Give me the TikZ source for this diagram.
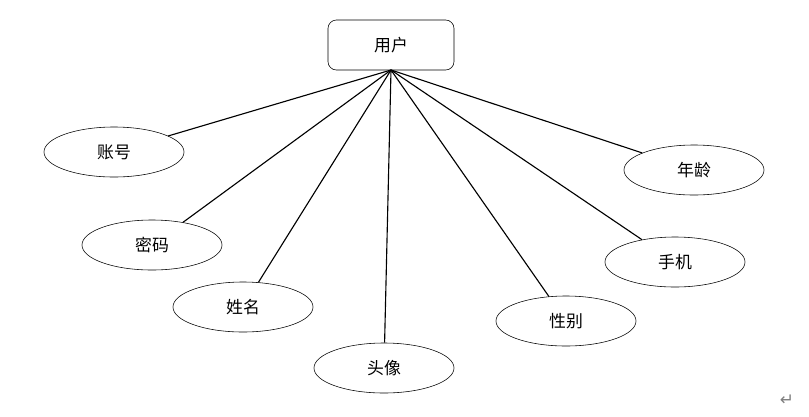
\documentclass[tikz,border=0pt]{standalone}
\usepackage{fontspec}
\newfontfamily\cjk{Noto Sans CJK SC}
\newfontfamily\dv{DejaVu Sans}
\usetikzlibrary{shapes.geometric}

\begin{document}
\begin{tikzpicture}[x=0.025cm,y=-0.025cm,
    attr/.style={draw,thin,ellipse,minimum width=3.5cm,minimum height=1.25cm,font=\cjk\large},
    ent/.style={draw,thin,rounded corners=6pt,minimum width=3.15cm,minimum height=1.25cm,font=\cjk\large}]
      \useasboundingbox (0,0) rectangle (809,416);

      \node[ent] (user) at (391,45) {用户};
      \coordinate (hub) at (391,70);

      \node[attr] (acct) at (114,152) {账号};
      \node[attr] (pwd) at (152,245) {密码};
      \node[attr] (name) at (243,307) {姓名};
      \node[attr] (avatar) at (384,368) {头像};
      \node[attr] (sex) at (566,321) {性别};
      \node[attr] (phone) at (675,262) {手机};
      \node[attr] (age) at (694,170) {年龄};

      \foreach \n in {acct,pwd,name,avatar,sex,phone,age}
        \draw[thick] (hub) -- (\n);

      \node[font=\dv\large,text=gray] (ret) at (787,400) {↵};
    \end{tikzpicture}
\end{document}
